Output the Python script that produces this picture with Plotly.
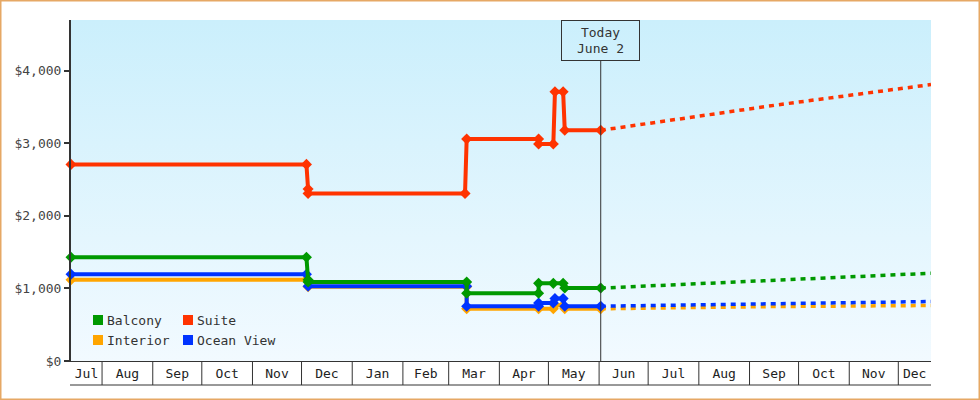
import base64
import pandas as pd
import plotly.graph_objects as go

# ---------------- data ----------------
series_names = ["Balcony", "Suite", "Interior", "Ocean View"]
series_colors = ["#009900", "#ff3300", "#ffa500", "#0033ff"]

suite_dates = ["2024-07-13", "2024-12-04", "2024-12-05", "2024-12-05", "2025-03-11", "2025-03-12",
               "2025-04-25", "2025-04-25", "2025-05-04", "2025-05-05", "2025-05-10", "2025-05-11", "2025-06-02"]
suite_prices = [2710, 2710, 2370, 2310, 2310, 3060, 3060, 2990, 2990, 3710, 3710, 3180, 3180]

balcony_dates = ["2024-07-13", "2024-12-04", "2024-12-05", "2024-12-05", "2025-03-12", "2025-03-12",
                 "2025-04-25", "2025-04-25", "2025-05-04", "2025-05-10", "2025-05-11", "2025-06-02"]
balcony_prices = [1430, 1430, 1120, 1090, 1090, 935, 935, 1070, 1070, 1070, 1005, 1005]

ocean_dates = ["2024-07-13", "2024-12-04", "2024-12-05", "2025-03-12", "2025-03-12", "2025-04-25",
               "2025-04-25", "2025-05-04", "2025-05-05", "2025-05-10", "2025-05-11", "2025-06-02"]
ocean_prices = [1195, 1195, 1030, 1030, 755, 755, 800, 800, 860, 860, 755, 755]

interior_dates = ["2024-07-13", "2024-12-04", "2024-12-05", "2025-03-12", "2025-03-12", "2025-04-25",
                  "2025-05-04", "2025-05-05", "2025-05-10", "2025-05-11", "2025-06-02"]
interior_prices = [1120, 1120, 1025, 1025, 720, 720, 720, 770, 770, 720, 720]

proj_dates = ["2025-06-02", "2025-09-18", "2025-12-21"]
suite_proj = [3180, 3530, 3810]
balcony_proj = [1005, 1110, 1210]
ocean_proj = [755, 793, 820]
interior_proj = [720, 751, 765]

today = "2025-06-02"
today_label = "Today<br>June 2"
x_start, x_end = "2024-07-13", "2025-12-21"
y_ticks = [0, 1000, 2000, 3000, 4000]
y_ticktext = ["$" + format(v, ",") for v in y_ticks]

# ---------------- layout geometry ----------------
W, H = 980, 400
ML, MR, MT, MB = 71, 49, 20, 39
PW, PH = W - ML - MR, H - MT - MB
FONT = "DejaVu Sans Mono"
INK = "#333333"


def px(x):
    return (x - ML) / PW


def py(y):
    return (H - MB - y) / PH


fig = go.Figure()

hist = {
    "Balcony": (balcony_dates, balcony_prices, balcony_proj),
    "Suite": (suite_dates, suite_prices, suite_proj),
    "Interior": (interior_dates, interior_prices, interior_proj),
    "Ocean View": (ocean_dates, ocean_prices, ocean_proj),
}
color_of = dict(zip(series_names, series_colors))
draw_order = ["Interior", "Ocean View", "Balcony", "Suite"]

for name in draw_order:
    d, v, p = hist[name]
    fig.add_trace(go.Scatter(x=proj_dates, y=p, mode="lines", showlegend=False,
                             line=dict(color=color_of[name], width=3.5, dash="5px,5px"),
                             hoverinfo="skip", cliponaxis=False))
for name in draw_order:
    d, v, p = hist[name]
    fig.add_trace(go.Scatter(x=d, y=v, mode="lines+markers", name=name, showlegend=False,
                             line=dict(color=color_of[name], width=4),
                             marker=dict(symbol="diamond", size=8.5, color=color_of[name]),
                             cliponaxis=False))

# month boxes under the axis
months = pd.date_range("2024-07-01", "2025-12-01", freq="MS")
xs, xe = pd.Timestamp(x_start), pd.Timestamp(x_end)
tickvals, ticktext = [], []
shapes = []
for m in months:
    nxt = m + pd.offsets.MonthBegin(1)
    a, b = max(m, xs), min(nxt, xe)
    tickvals.append(a + (b - a) / 2)
    ticktext.append(m.strftime("%b"))
    if m > xs:
        shapes.append(dict(type="line", xref="x", yref="paper", x0=m, x1=m,
                           y0=0, y1=py(385), line=dict(color=INK, width=1)))
shapes.append(dict(type="line", xref="paper", yref="paper", x0=px(70), x1=1,
                   y0=py(385), y1=py(385), line=dict(color=INK, width=1)))

# today marker line
shapes.append(dict(type="line", xref="x", yref="paper", x0=today, x1=today,
                   y0=0, y1=py(60.7), line=dict(color=INK, width=1)))

# outer border
shapes.append(dict(type="rect", xref="paper", yref="paper",
                   x0=px(0.75), x1=px(W - 0.75), y0=py(0.75), y1=py(H - 0.75),
                   line=dict(color="#e6a865", width=1.5), fillcolor="rgba(0,0,0,0)"))

# manual legend (two columns)
annotations = []
legend_pos = {"Balcony": (93, 320), "Suite": (183, 320), "Interior": (93, 340), "Ocean View": (183, 340)}
for name in series_names:
    lx, ly = legend_pos[name]
    shapes.append(dict(type="rect", xref="paper", yref="paper", x0=px(lx), x1=px(lx + 10),
                       y0=py(ly + 5), y1=py(ly - 5), line=dict(width=0),
                       fillcolor=color_of[name]))
    annotations.append(dict(xref="paper", yref="paper", x=px(lx + 12), y=py(ly),
                            xanchor="left", yanchor="middle", text=name, showarrow=False,
                            font=dict(family=FONT, size=13, color=INK)))

annotations.append(dict(xref="x", yref="paper", x=today, y=1, xanchor="center", yanchor="top",
                        text=today_label, showarrow=False, width=75, height=37,
                        borderpad=1, borderwidth=1, bordercolor=INK, bgcolor="rgba(0,0,0,0)",
                        font=dict(family=FONT, size=13, color=INK)))

svg = ('<svg xmlns="http://www.w3.org/2000/svg" width="10" height="100" viewBox="0 0 10 100" '
       'preserveAspectRatio="none"><defs><linearGradient id="g" x1="0" y1="0" x2="0" y2="1">'
       '<stop offset="0" stop-color="#cbeffc"/><stop offset="1" stop-color="#f2faff"/>'
       '</linearGradient></defs><rect width="10" height="100" fill="url(#g)"/></svg>')
bg_src = "data:image/svg+xml;base64," + base64.b64encode(svg.encode()).decode()

fig.update_layout(
    width=W, height=H,
    margin=dict(l=ML, r=MR, t=MT, b=MB, pad=0),
    paper_bgcolor="white",
    plot_bgcolor="rgba(0,0,0,0)",
    showlegend=False,
    font=dict(family=FONT, size=13, color=INK),
    shapes=shapes,
    annotations=annotations,
    images=[dict(source=bg_src, xref="paper", yref="paper", x=0, y=1, sizex=1, sizey=1,
                 xanchor="left", yanchor="top", sizing="stretch", layer="below")],
    xaxis=dict(range=[x_start, x_end], showgrid=False, zeroline=False,
               showline=True, linecolor=INK, linewidth=1,
               tickmode="array", tickvals=tickvals, ticktext=ticktext,
               ticks="", ticklen=0,
               tickfont=dict(family=FONT, size=13, color="#222222")),
    yaxis=dict(range=[0, 4700], showgrid=False, zeroline=False,
               showline=True, linecolor=INK, linewidth=2,
               tickmode="array", tickvals=y_ticks, ticktext=y_ticktext,
               ticks="outside", ticklen=5, tickwidth=2, tickcolor=INK,
               tickfont=dict(family=FONT, size=13, color="#444444")),
)

fig.write_html("out.html")
